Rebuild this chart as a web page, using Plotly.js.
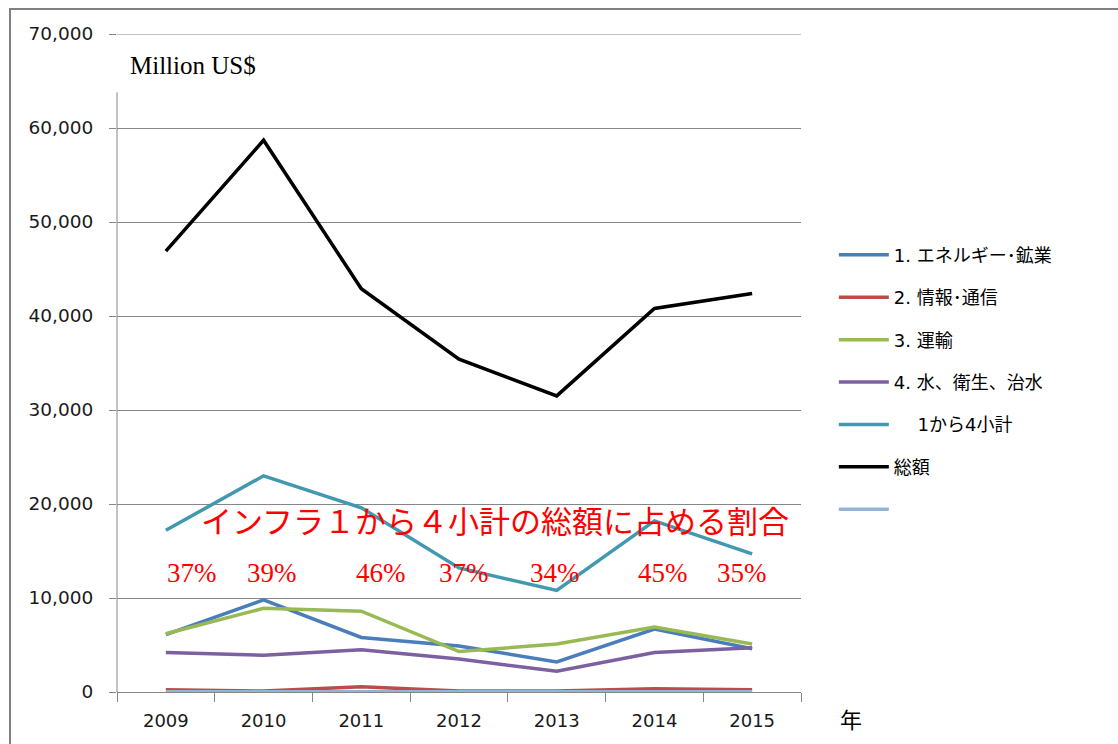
<!DOCTYPE html>
<html>
<head>
<meta charset="utf-8">
<script src="https://cdn.plot.ly/plotly-3.0.1.min.js"></script>
<style>
html,body{margin:0;padding:0;background:#fff;}
#wrap{position:relative;width:1118px;height:744px;overflow:hidden;}
#chart{width:1118px;height:744px;}
#frame{position:absolute;left:9px;top:8px;width:3000px;height:3000px;border-left:2px solid #808080;border-top:2px solid #808080;pointer-events:none;}
</style>
</head>
<body>
<div id="wrap"><div id="chart"></div><div id="frame"></div></div>
<script>
const years = ['2009','2010','2011','2012','2013','2014','2015'];
const energy = [6100, 9800, 5800, 4900, 3200, 6700, 4600];
const ict = [250, 100, 550, 100, 100, 350, 250];
const transport = [6200, 8900, 8600, 4300, 5100, 6900, 5100];
const water = [4200, 3900, 4500, 3500, 2200, 4200, 4700];
const subtotal = [17200, 23000, 19600, 13200, 10800, 18200, 14700];
const total = [46900, 58700, 42900, 35400, 31500, 40800, 42400];
const blank = [20, 20, 20, 20, 20, 20, 20];

const seriesNames = ['1. エネルギー･鉱業', '2. 情報･通信', '3. 運輸', '4. 水、衛生、治水', '\u3000 1から4小計', '総額', ' '];
const seriesData = [energy, ict, transport, water, subtotal, total, blank];
const colors = ['#4A7EBB', '#BE4B48', '#98B954', '#7D60A0', '#4198AF', '#000000', '#95B3D7'];

const ratioLabels = ['37%', '39%', '46%', '37%', '34%', '45%', '35%'];
const ratioShift = [26, 8, 20, 5, -2, 9, -10];

const traces = seriesData.map((d, i) => ({
  type: 'scatter', mode: 'lines', x: years, y: d, name: seriesNames[i],
  legendgroup: 'g' + i,
  line: {color: colors[i], width: 3.5},
  hoverinfo: 'skip'
}));

const annotations = [
  {xref: 'paper', yref: 'paper', x: 0.016, y: 0.952, xanchor: 'left', yanchor: 'middle',
   text: 'Million US$', showarrow: false,
   font: {family: 'Liberation Serif, serif', size: 25, color: '#000'}},
  {xref: 'paper', yref: 'paper', x: 0.553, y: 0.258, xanchor: 'center', yanchor: 'middle',
   text: 'インフラ１から４小計の総額に占める割合', showarrow: false,
   font: {family: 'Liberation Serif, Noto Sans CJK JP, serif', size: 31, color: '#FF0000'}},
  {xref: 'paper', yref: 'paper', x: 1.054, y: -0.04, xanchor: 'left', yanchor: 'middle',
   text: '年', showarrow: false,
   font: {family: 'Noto Sans CJK JP, sans-serif', size: 22, color: '#000'}}
];
ratioLabels.forEach((t, i) => {
  annotations.push({xref: 'x', yref: 'paper', x: i, y: 0.181, xshift: ratioShift[i],
    xanchor: 'center', yanchor: 'middle', text: t, showarrow: false,
    font: {family: 'Liberation Serif, serif', size: 27, color: '#FF0000'}});
});

const layout = {
  width: 1118, height: 744,
  margin: {l: 117, r: 317, t: 34, b: 52, pad: 0},
  paper_bgcolor: '#fff', plot_bgcolor: '#fff',
  font: {family: 'DejaVu Sans, Noto Sans CJK JP, sans-serif', size: 18, color: '#1a1a1a'},
  showlegend: true,
  legend: {x: 1.048, y: 0.692, xanchor: 'left', yanchor: 'top', tracegroupgap: 16,
    traceorder: 'grouped', itemwidth: 50,
    font: {family: 'DejaVu Sans, Noto Sans CJK JP, sans-serif', size: 18, color: '#000'},
    bgcolor: 'rgba(0,0,0,0)'},
  xaxis: {type: 'category', range: [-0.5, 6.5], showgrid: false, showline: true, linecolor: '#868686', linewidth: 1,
    ticks: 'outside', tickson: 'boundaries', ticklen: 9, tickcolor: '#868686',
    ticklabelstandoff: 12,
    tickfont: {size: 18, color: '#1a1a1a'}, zeroline: false, fixedrange: true},
  yaxis: {range: [0, 70000], dtick: 10000, tickformat: ',d', showgrid: true, gridcolor: '#868686',
    gridwidth: 1, showline: false, zeroline: false, ticks: 'outside', ticklen: 7, tickcolor: '#868686',
    ticklabelstandoff: 12, tickfont: {size: 18.5, color: '#1a1a1a'}, fixedrange: true},
  shapes: [
    {type: 'line', xref: 'paper', yref: 'y', x0: 0, x1: 0, y0: 0, y1: 63800,
     line: {color: '#868686', width: 1}},
    {type: 'line', xref: 'paper', yref: 'y', x0: 0, x1: 1, y0: 70000, y1: 70000,
     line: {color: '#868686', width: 1}}
  ],
  annotations: annotations
};

Plotly.newPlot('chart', traces, layout, {displayModeBar: false, staticPlot: true});
</script>
</body>
</html>
